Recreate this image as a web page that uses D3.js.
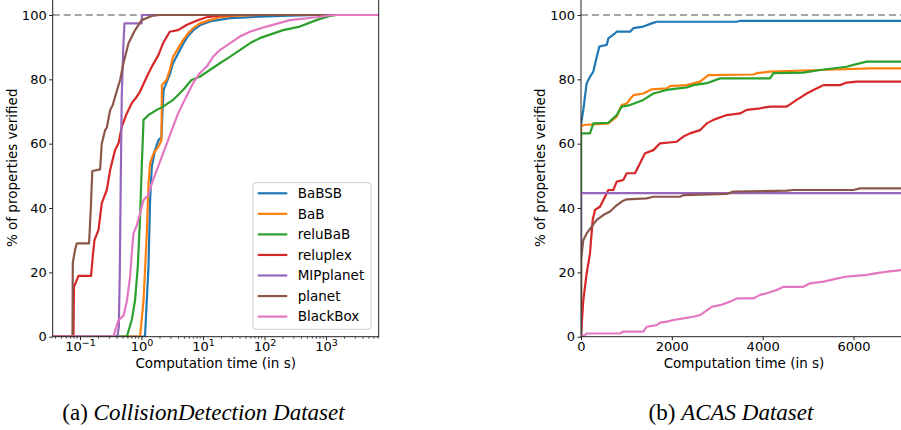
<!DOCTYPE html>
<html>
<head>
<meta charset="utf-8">
<script src="https://cdn.jsdelivr.net/npm/d3@7"></script>
<style>
  body { margin: 0; background: #fff; }
  svg { display: block; }
  .tick text { font-family: "DejaVu Sans", sans-serif; font-size: 13px; fill: #000; }
  .lbl { font-family: "DejaVu Sans", sans-serif; font-size: 13.5px; fill: #000; }
  .cap { font-family: "Liberation Serif", "Times New Roman", serif; font-size: 23px; fill: #000; }
</style>
</head>
<body>
<div id="chart"></div>
<script>
// ---- Data ----
const methods = ["BaBSB", "BaB", "reluBaB", "reluplex", "MIPplanet", "planet", "BlackBox"];
const methodColors = ["#1f77b4", "#ff7f0e", "#2ca02c", "#d62728", "#9467bd", "#8c564b", "#e377c2"];

// (a) CollisionDetection: [time in s, % verified]
const cdBaBSB = [[1.14,0],[1.30,21.8],[1.38,42.5],[1.47,52.8],[1.66,58],[1.89,61.1],[2.11,62],[2.20,70],[2.29,76.7],[2.55,79],[2.88,81.5],[3.26,85],[3.94,88],[4.75,91],[5.72,93.5],[6.90,95.2],[8.87,96.8],[12.9,98],[27.3,99],[83.9,99.5],[258,99.8],[793,100]];
const cdBaB = [[0.949,0],[1.08,11.4],[1.22,32],[1.30,47.7],[1.38,53.9],[1.57,57],[1.89,59.1],[2.05,60.5],[2.11,61],[2.15,78.2],[2.55,79.8],[2.88,82.9],[3.26,87],[3.94,89.6],[4.75,92.2],[5.72,94.3],[6.90,95.9],[8.87,97.4],[12.9,98.4],[18.8,99.3],[30.5,99.7],[83.9,100]];
const cdReluBaB = [[0.577,0],[0.695,5.2],[0.787,11.4],[0.871,21.8],[0.949,37.3],[1.01,52.8],[1.08,67.4],[1.30,68.9],[1.77,70.5],[2.24,71.5],[3.26,73.6],[4.75,76.7],[6.50,79.8],[8.87,80.8],[12.9,82.9],[18.8,85],[27.3,87],[39.7,89.1],[57.7,91.2],[83.9,92.8],[201,95.3],[375,96.4],[701,98.4],[1153,99.7],[1500,100]];
const cdReluplex = [[0.0784,0],[0.0799,15.5],[0.0946,18.9],[0.1515,18.9],[0.1614,25],[0.172,30],[0.200,33.2],[0.226,41.5],[0.273,45.6],[0.309,51.8],[0.372,58],[0.423,60.1],[0.478,65.3],[0.577,69.4],[0.695,72.6],[0.839,74.6],[0.949,76.2],[1.22,80.8],[1.47,83.9],[1.89,87.6],[2.24,91.2],[2.88,94.8],[3.94,95.3],[5.39,96.9],[7.84,98.2],[11.4,99.3],[18.8,99.8],[39.7,100]];
const cdMIPplanet = [[0.404,0],[0.428,3],[0.444,20],[0.461,50],[0.478,75],[0.506,90],[0.529,97.4],[1.0,97.4],[1.02,100]];
const cdPlanet = [[0.0755,0],[0.0764,23],[0.0832,27],[0.0887,29],[0.1406,29],[0.150,40],[0.1585,51.5],[0.2123,52],[0.226,60],[0.256,64.2],[0.273,65],[0.309,70.4],[0.341,72],[0.372,74.6],[0.449,79.8],[0.509,85],[0.615,91.2],[0.787,95.3],[1.01,98.4],[1.47,99.7],[1.98,100]];
const cdBlackBox = [[0.351,0],[0.372,1.8],[0.423,5.2],[0.509,6.5],[0.577,10.9],[0.653,18.7],[0.695,25.9],[0.741,32.1],[0.839,34.6],[0.949,38.4],[1.08,42.5],[1.28,44],[1.54,48.7],[1.86,52.8],[2.24,57],[2.71,61.1],[3.26,65.3],[3.94,69.4],[4.75,72.6],[5.72,75.7],[6.90,78.8],[8.87,81.9],[11.4,83.9],[14.6,87],[18.8,89.1],[27.3,91.2],[39.7,93.3],[57.7,94.8],[108,96.4],[258,98.4],[701,99.3],[1300,100]];

// (b) ACAS: [time in s, % verified]
const acasBaBSB = [[0,0],[0,66],[51,70.5],[125,78.8],[198,80.8],[272,82.4],[330,86],[404,90.2],[565,90.7],[602,92.7],[749,94.3],[786,94.8],[1079,94.8],[1153,95.9],[1373,96.4],[1557,97.4],[1667,97.9],[3429,97.9],[3502,98.2],[7200,98.2]];
const acasBaB = [[0,0],[0,65.3],[50,65.8],[602,66.3],[786,68.4],[896,72],[1006,72.5],[1153,75.1],[1373,75.6],[1557,76.9],[1887,77.2],[1960,77.9],[2327,78.2],[2621,79.3],[2805,81.3],[3796,81.5],[3869,81.9],[4163,82.4],[5264,82.9],[6366,83.4],[7200,83.4]];
const acasReluBaB = [[0,0],[0,63.2],[198,63.2],[272,66.3],[602,66.5],[786,68.9],[896,71.5],[1079,72],[1373,73.6],[1594,75.6],[1887,76.7],[2327,77.5],[2474,78.2],[2768,78.8],[3062,80.3],[4163,80.3],[4236,81.9],[4897,82.1],[5264,82.9],[5852,83.9],[5999,84.5],[6292,85.5],[7200,85.5]];
const acasReluplex = [[0,0],[51,11.4],[125,19.7],[198,25.9],[257,36.3],[308,39.4],[418,40.4],[529,43.5],[602,45.6],[712,45.6],[786,48.2],[932,48.7],[1006,50.8],[1189,50.8],[1300,53.9],[1410,57],[1594,58],[1740,60.1],[2107,60.6],[2254,62.2],[2401,63.2],[2621,64.2],[2768,66.3],[2915,67.4],[3209,68.9],[3502,69.4],[3649,70.5],[3943,71],[4163,71.5],[4530,71.5],[4750,73.6],[4971,75.6],[5117,76.7],[5264,77.7],[5338,78.2],[5705,78.2],[5852,79],[6072,79.3],[7200,79.3]];
const acasMIPplanet = [[0,0],[0,44.6],[7200,44.6]];
const acasPlanet = [[0,0],[0,23.8],[51,30],[125,32.1],[235,34.2],[345,36.3],[492,37.8],[639,38.9],[749,40.4],[896,42],[1006,42.7],[1446,43],[1594,43.5],[2181,43.5],[2254,44],[3209,44.4],[3356,45.1],[4530,45.4],[4677,45.6],[5999,45.6],[6145,46.1],[7200,46.1]];
const acasBlackBox = [[0,0],[88,0.5],[125,1],[859,1],[932,1.6],[1373,1.6],[1446,3.1],[1667,3.6],[1740,4.4],[1887,4.7],[2034,5.2],[2254,5.7],[2474,6.2],[2621,6.7],[2731,7.8],[2878,9.3],[3062,9.8],[3282,10.9],[3429,11.9],[3796,11.9],[3943,13],[4090,13.5],[4310,14.5],[4457,15.5],[4897,15.5],[5044,16.6],[5338,17.1],[5558,17.8],[5852,18.7],[6292,19.2],[6586,19.9],[6733,20.2],[7048,20.7],[7200,20.9]];

const cdSeries = [cdBaBSB, cdBaB, cdReluBaB, cdReluplex, cdMIPplanet, cdPlanet, cdBlackBox];
const acasSeries = [acasBaBSB, acasBaB, acasReluBaB, acasReluplex, acasMIPplanet, acasPlanet, acasBlackBox];

const yTicks = [0, 20, 40, 60, 80, 100];
const cdTicks = [0.1, 1, 10, 100, 1000];
const acasTicks = [0, 2000, 4000, 6000];
const captionA = ["(a) ", "CollisionDetection Dataset"];
const captionB = ["(b) ", "ACAS Dataset"];

// ---- Layout ----
const W = 901, H = 430;
const plotTop = -1.1, plotBottom = 336.7;
const svg = d3.select("#chart").append("svg").attr("width", W).attr("height", H);

const yScale = d3.scaleLinear().domain([0, 105]).range([plotBottom, plotTop]);
const xCd = d3.scaleLog().domain([0.036, 7200]).range([52.7, 378.7]);
const xAcas = d3.scaleLinear().domain([0, 7200]).range([581, 908]);

// 10^e labels for the log axis
function powLabel(sel) {
  sel.each(function(d) {
    const t = d3.select(this).text("");
    const e = Math.round(Math.log10(d));
    t.append("tspan").text("10");
    t.append("tspan").attr("dy", "-0.5em").style("font-size", "9.5px")
      .text(String(e).replace("-", "\u2212"));
  });
}

function drawPanel(id, xScale, series, xTickVals, isLog, yLabelX) {
  const [x0, x1] = xScale.range();
  const g = svg.append("g");

  g.append("clipPath").attr("id", "clip-" + id)
    .append("rect").attr("x", x0).attr("y", plotTop).attr("width", x1 - x0).attr("height", plotBottom - plotTop);

  // dashed 100% line
  g.append("line")
    .attr("x1", x0).attr("x2", x1).attr("y1", yScale(100)).attr("y2", yScale(100))
    .attr("stroke", "#888").attr("stroke-width", 1.5).attr("stroke-dasharray", "7,4");

  const line = d3.line().x(d => xScale(d[0])).y(d => yScale(d[1]));
  const lines = g.append("g").attr("clip-path", `url(#clip-${id})`);
  series.forEach((pts, i) => {
    let data = pts;
    if (isLog) data = [[xScale.domain()[0], 0], ...pts, [xScale.domain()[1], pts[pts.length - 1][1]]];
    lines.append("path").datum(data)
      .attr("d", line)
      .attr("fill", "none")
      .attr("stroke", methodColors[i])
      .attr("stroke-width", 2.2)
      .attr("stroke-linejoin", "round");
  });

  // frame
  g.append("rect").attr("x", x0).attr("y", plotTop).attr("width", x1 - x0).attr("height", plotBottom - plotTop)
    .attr("fill", "none").attr("stroke", "#222").attr("stroke-width", 1);

  // axes
  const xAxis = d3.axisBottom(xScale).tickValues(xTickVals).tickSize(3.5).tickPadding(1.5).tickSizeOuter(0)
    .tickFormat(d3.format("d"));
  const xg = g.append("g").attr("transform", `translate(0,${plotBottom})`).call(xAxis);
  xg.select(".domain").remove();
  xg.selectAll(".tick line").attr("stroke", "#222");
  if (isLog) {
    xg.selectAll(".tick text").call(powLabel);
    const minor = [];
    for (let e = -2; e <= 3; e++) for (let m = 2; m <= 9; m++) {
      const v = m * Math.pow(10, e);
      if (v >= xScale.domain()[0] && v <= xScale.domain()[1]) minor.push(v);
    }
    g.append("g").selectAll("line").data(minor).join("line")
      .attr("x1", d => xScale(d)).attr("x2", d => xScale(d))
      .attr("y1", plotBottom).attr("y2", plotBottom + 2)
      .attr("stroke", "#222").attr("stroke-width", 0.8);
  }

  const yAxis = d3.axisLeft(yScale).tickValues(yTicks).tickSize(3.5).tickPadding(2.5).tickSizeOuter(0);
  const yg = g.append("g").attr("transform", `translate(${x0},0)`).call(yAxis);
  yg.select(".domain").remove();
  yg.selectAll(".tick line").attr("stroke", "#222");

  g.append("text").attr("class", "lbl")
    .attr("x", x0 + 163).attr("y", 367.5).attr("text-anchor", "middle")
    .text("Computation time (in s)");
  g.append("text").attr("class", "lbl")
    .attr("transform", `translate(${yLabelX},${(plotTop + plotBottom) / 2}) rotate(-90)`)
    .attr("text-anchor", "middle")
    .text("% of properties verified");
}

drawPanel("cd", xCd, cdSeries, cdTicks, true, 17);
drawPanel("acas", xAcas, acasSeries, acasTicks, false, 545);

// ---- Legend (left panel) ----
const legend = svg.append("g").attr("transform", "translate(253,182.7)");
legend.append("rect").attr("width", 118).attr("height", 146.6).attr("rx", 3)
  .attr("fill", "#fff").attr("fill-opacity", 0.8).attr("stroke", "#ccc");
methods.forEach((m, i) => {
  const yy = 10.6 + i * 20.55;
  legend.append("line").attr("x1", 4.7).attr("x2", 34.3).attr("y1", yy).attr("y2", yy)
    .attr("stroke", methodColors[i]).attr("stroke-width", 2.2);
  legend.append("text").attr("class", "lbl").attr("x", 44.7).attr("y", yy).attr("dy", "0.36em").text(m);
});

// ---- Captions ----
[[captionA, 203.5], [captionB, 731]].forEach(([c, cx]) => {
  const t = svg.append("text").attr("class", "cap").attr("x", cx).attr("y", 420).attr("text-anchor", "middle");
  t.append("tspan").text(c[0]);
  t.append("tspan").style("font-style", "italic").text(c[1]);
});
</script>
</body>
</html>
